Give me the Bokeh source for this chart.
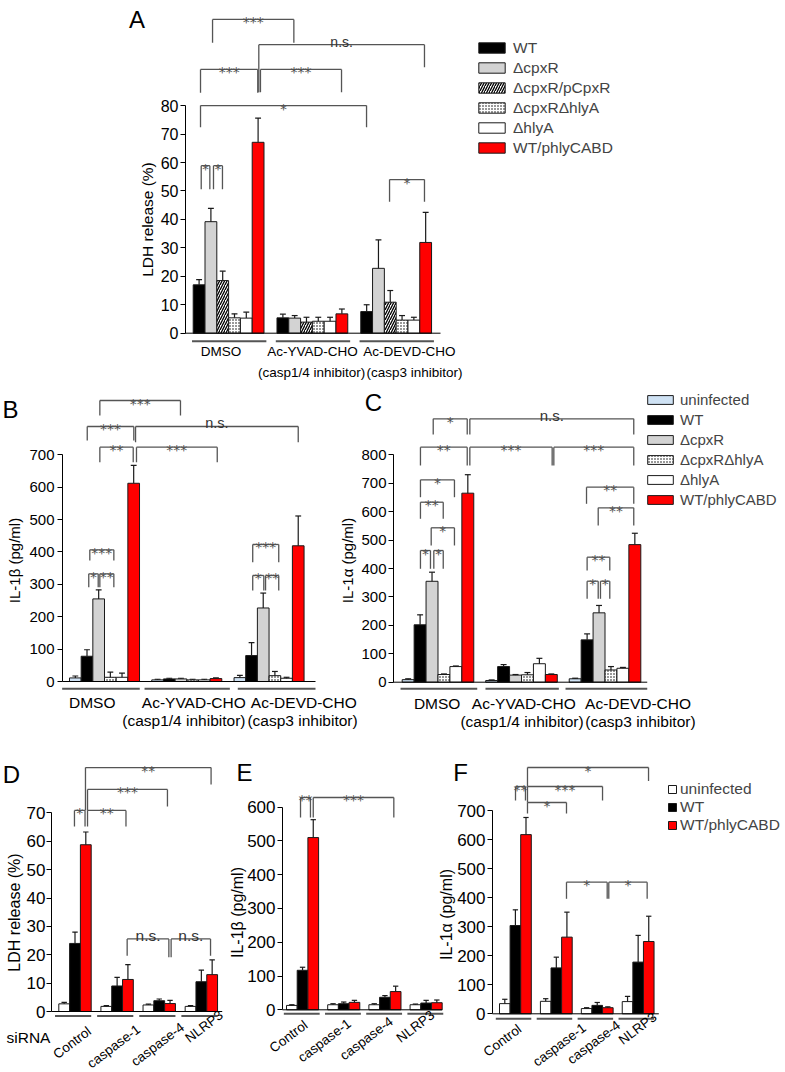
import math
from bokeh.plotting import figure
from bokeh.models import Range1d, FixedTicker, Legend, LegendItem, LinearAxis
from bokeh.embed import file_html
from bokeh.resources import INLINE
from bokeh.core.properties import value

FONT = "Liberation Sans"
STAR_FONT = "DejaVu Sans"
PW, PH = 785, 1072
M = 0

# ================= DATA =================
# Panel A : LDH release (%)
A_groups = ["DMSO", "Ac-YVAD-CHO", "Ac-DEVD-CHO"]
A_subs = ["(casp1/4 inhibitor)", "(casp3 inhibitor)"]
A_series = ["WT", "ΔcpxR", "ΔcpxR/pCpxR", "ΔcpxRΔhlyA", "ΔhlyA", "WT/phlyCABD"]
A_WT = [17.0, 5.4, 7.6]
A_WT_sem = [1.8, 1.3, 2.4]
A_cpxR = [39.2, 5.3, 22.8]
A_cpxR_sem = [4.7, 0.9, 10.0]
A_cpxRp = [18.5, 3.9, 10.9]
A_cpxRp_sem = [3.3, 1.7, 4.1]
A_cpxRhly = [5.4, 4.2, 4.6]
A_cpxRhly_sem = [1.4, 1.4, 1.6]
A_hly = [5.3, 4.2, 4.6]
A_hly_sem = [2.1, 1.4, 1.0]
A_red = [67.1, 6.8, 31.9]
A_red_sem = [8.5, 1.7, 10.6]
A_yticks = [0, 10, 20, 30, 40, 50, 60, 70, 80]

# Panel B : IL-1beta (pg/ml)
BC_series = ["uninfected", "WT", "ΔcpxR", "ΔcpxRΔhlyA", "ΔhlyA", "WT/phlyCABD"]
B_un = [11, 5, 12]
B_un_sem = [6, 2, 7]
B_WT = [78, 8, 80]
B_WT_sem = [20, 2, 40]
B_cpxR = [255, 8, 227]
B_cpxR_sem = [28, 2, 46]
B_cpxRhly = [13, 5, 18]
B_cpxRhly_sem = [16, 2, 13]
B_hly = [13, 5, 10]
B_hly_sem = [13, 2, 3]
B_red = [612, 9, 419]
B_red_sem = [55, 2, 92]
B_yticks = [0, 100, 200, 300, 400, 500, 600, 700]

# Panel C : IL-1alpha (pg/ml)
C_un = [9, 6, 12]
C_un_sem = [3, 2, 2]
C_WT = [202, 55, 149]
C_WT_sem = [35, 7, 21]
C_cpxR = [355, 25, 244]
C_cpxR_sem = [32, 2, 26]
C_cpxRhly = [27, 26, 43]
C_cpxRhly_sem = [2, 8, 12]
C_hly = [55, 65, 49]
C_hly_sem = [2, 19, 3]
C_red = [665, 27, 484]
C_red_sem = [65, 2, 40]
C_yticks = [0, 100, 200, 300, 400, 500, 600, 700, 800]

# Panels D-F : siRNA knock-down
DEF_groups = ["Control", "caspase-1", "caspase-4", "NLRP3"]
DEF_series = ["uninfected", "WT", "WT/phlyCABD"]
D_un = [2.7, 1.8, 2.3, 1.8]
D_un_sem = [0.5, 0.3, 0.3, 0.3]
D_WT = [24.0, 9.0, 3.8, 10.5]
D_WT_sem = [4.0, 3.0, 0.6, 4.1]
D_red = [58.8, 11.3, 2.8, 13.0]
D_red_sem = [4.5, 5.2, 1.1, 5.2]
D_yticks = [0, 10, 20, 30, 40, 50, 60, 70]

E_un = [13, 15, 15, 15]
E_un_sem = [2, 3, 3, 2]
E_WT = [117, 18, 37, 20]
E_WT_sem = [9, 5, 5, 8]
E_red = [510, 22, 54, 21]
E_red_sem = [53, 6, 16, 8]
E_yticks = [0, 100, 200, 300, 400, 500, 600]

F_un = [35, 43, 18, 42]
F_un_sem = [15, 9, 3, 18]
F_WT = [304, 158, 29, 178]
F_WT_sem = [54, 37, 10, 92]
F_red = [617, 264, 21, 249]
F_red_sem = [59, 86, 3, 87]
F_yticks = [0, 100, 200, 300, 400, 500, 600, 700]

# significance brackets: (x_left, x_right, y, left-leg end, right-leg end, label)
A_sig = [(1.64, 8.53, 110.3, 102.1, 102.1, "***"),
         (5.56, 19.6, 101.4, 84.7, 93.5, "n.s."),
         (0.62, 5.47, 92.7, 84.5, 84.5, "***"),
         (5.70, 12.57, 92.7, 84.7, 84.7, "***"),
         (0.62, 14.69, 80.0, 72.4, 72.4, "*"),
         (0.68, 1.41, 58.9, 50.6, 50.6, "*"),
         (1.72, 2.48, 58.9, 50.6, 50.6, "*"),
         (16.64, 19.6, 54.0, 46.2, 46.2, "*")]
B_sig = [(2.6, 9.51, 867.5, 821.2, 821.2, "***"),
         (1.52, 5.51, 787.3, 744, 744, "***"),
         (5.66, 19.6, 787.3, 738.8, 738.8, "n.s."),
         (2.6, 5.46, 723.4, 677, 677, "**"),
         (5.74, 12.66, 723.4, 677, 677, "***"),
         (1.74, 3.8, 406.6, 373.6, 373.6, "***"),
         (1.65, 2.46, 332.5, 291, 291, "*"),
         (2.6, 3.8, 332.5, 291, 291, "**"),
         (15.7, 17.93, 423, 368.3, 368.3, "***"),
         (15.7, 16.65, 327.3, 281, 281, "*"),
         (16.8, 17.93, 327.3, 281, 281, "**")]
C_sig = [(2.6, 5.45, 926.6, 871.4, 871.4, "*"),
         (5.67, 19.41, 926.6, 871.4, 871.4, "n.s."),
         (1.53, 5.45, 826.7, 762.4, 762.4, "**"),
         (5.67, 12.57, 826.7, 762.4, 762.4, "***"),
         (12.71, 19.41, 826.7, 762.4, 762.4, "***"),
         (1.53, 4.38, 712, 650.8, 650.8, "*"),
         (1.53, 3.44, 633.2, 574.9, 574.9, "**"),
         (2.43, 4.38, 543.2, 481, 481, "*"),
         (1.53, 2.37, 463.3, 399, 399, "*"),
         (2.65, 3.44, 463.3, 399, 399, "*"),
         (15.45, 19.41, 686, 627.6, 627.6, "**"),
         (16.43, 19.41, 613.5, 551.3, 551.3, "**"),
         (15.5, 17.4, 439.8, 393, 393, "**"),
         (15.5, 16.43, 355.3, 293.4, 293.4, "*"),
         (16.62, 17.4, 355.3, 293.4, 293.4, "*")]
D_sig = [(2.47, 14.1, 86.0, 70.9, 80.0, "**"),
         (2.66, 10.06, 78.3, 70.9, 72.3, "***"),
         (1.45, 2.43, 70.9, 65.2, 65.2, "*"),
         (2.66, 6.22, 70.9, 65.2, 65.2, "**"),
         (6.33, 10.19, 25.6, 19.7, 19.1, "n.s."),
         (10.4, 14.05, 25.6, 19.1, 19.7, "n.s.")]
E_sig = [(1.31, 2.24, 628.7, 569.4, 569.4, "**"),
         (2.5, 10.03, 628.7, 569.4, 569.4, "***")]
F_sig = [(2.64, 14.06, 848.1, 782.7, 801.7, "*"),
         (1.51, 2.45, 782.7, 734.5, 734.5, "**"),
         (2.64, 9.72, 782.7, 727.6, 734.5, "***"),
         (2.64, 6.32, 727.6, 689.7, 689.7, "*"),
         (6.32, 10.16, 453.2, 396, 396, "*"),
         (10.31, 13.93, 453.2, 396, 396, "*")]

# ================= STYLES =================
EDGE = "#1a1a1a"
STY = {
    "uninfected": dict(fill_color="#cfe2f4"),
    "uninfected_w": dict(fill_color="white"),
    "WT": dict(fill_color="black"),
    "ΔcpxR": dict(fill_color="#d3d3d3"),
    "ΔcpxR/pCpxR": dict(fill_color="white", hatch_pattern="/", hatch_scale=5,
                         hatch_weight=1.3, hatch_color="black"),
    "ΔcpxRΔhlyA": dict(fill_color="white", hatch_pattern=".", hatch_scale=3,
                        hatch_weight=1, hatch_color="black"),
    "ΔhlyA": dict(fill_color="white"),
    "WT/phlyCABD": dict(fill_color="#ff0000"),
}

# one page-sized figure; every panel has its own x/y ranges and y axis
p = figure(width=PW, height=PH, x_range=Range1d(M, M + PW), y_range=Range1d(M + PH, M),
           output_backend="svg", toolbar_location=None, tools="",
           x_axis_location=None, y_axis_location=None, min_border=0)
p.background_fill_color = None
p.border_fill_color = None
p.outline_line_color = None
p.grid.grid_line_color = None

XR, YR = {}, {}
AX_X = {}


def setup(name, geom, yticks, tick_fs, tick_so):
    axis_px, x0, sx, y0, sy = geom
    XR[name] = Range1d((M - x0) / sx, (M + PW - x0) / sx)
    YR[name] = Range1d((y0 - (M + PH)) / sy, (y0 - M) / sy)
    AX_X[name] = (axis_px - x0) / sx
    return (name, yticks, tick_fs, tick_so)


def add_axis(spec):
    name, yticks, tick_fs, tick_so = spec
    ax = LinearAxis(x_range_name=name, y_range_name=name, fixed_location=AX_X[name],
                    bounds=(0, yticks[-1]), ticker=FixedTicker(ticks=yticks))
    ax.minor_tick_line_color = None
    ax.major_tick_in = 0
    ax.major_tick_out = 5
    ax.major_tick_line_color = "black"
    ax.axis_line_color = "black"
    ax.major_label_standoff = tick_so
    ax.major_label_text_font = FONT
    ax.major_label_text_font_size = f"{tick_fs}px"
    ax.major_label_text_color = "black"
    p.add_layout(ax, "left")


def bars(name, series, stride, cap=0.25):
    kw = dict(x_range_name=name, y_range_name=name)
    rs = []
    for i, (means, sems, sty) in enumerate(series):
        xs = [g * stride + i + 0.5 for g in range(len(means))]
        r = p.vbar(x=xs, top=means, bottom=0, width=1.0, line_color=EDGE,
                   line_width=1, **STY[sty], **kw)
        tops = [m + s for m, s in zip(means, sems)]
        p.segment(x0=xs, y0=means, x1=xs, y1=tops, line_color=EDGE, line_width=1.2, **kw)
        p.segment(x0=[x - cap for x in xs], y0=tops, x1=[x + cap for x in xs],
                  y1=tops, line_color=EDGE, line_width=1.2, **kw)
        rs.append(r)
    return rs


def brackets(name, sig, star_fs=14, ns_fs=15):
    kw = dict(x_range_name=name, y_range_name=name)
    x0s, y0s, x1s, y1s = [], [], [], []
    for (a, b, y, yl, yr, t) in sig:
        x0s += [a, a, b]
        y0s += [y, y, y]
        x1s += [b, a, b]
        y1s += [y, yl, yr]
    p.segment(x0=x0s, y0=y0s, x1=x1s, y1=y1s, line_color="#555555", line_width=1.3, **kw)
    stars = [s for s in sig if s[5] != "n.s."]
    ns = [s for s in sig if s[5] == "n.s."]
    if stars:
        p.text(x=[(s[0] + s[1]) / 2 for s in stars], y=[s[2] for s in stars],
               text=[s[5] for s in stars], text_align="center",
               text_baseline="alphabetic", y_offset=3,
               text_font=value(STAR_FONT), text_font_size=f"{star_fs}px",
               text_color="#505050", **kw)
    if ns:
        p.text(x=[(s[0] + s[1]) / 2 for s in ns], y=[s[2] for s in ns],
               text=[s[5] for s in ns], text_align="center",
               text_baseline="alphabetic", y_offset=-3,
               text_font=value(FONT), text_font_size=f"{ns_fs}px",
               text_color="#333333", **kw)


def baseline(name, x_end, ul_y, ul_ext):
    kw = dict(x_range_name=name, y_range_name=name)
    p.segment(x0=[AX_X[name]], y0=[0], x1=[x_end], y1=[0],
              line_color="black", line_width=1, **kw)
    p.segment(x0=[e[0] for e in ul_ext], y0=[ul_y] * len(ul_ext),
              x1=[e[1] for e in ul_ext], y1=[ul_y] * len(ul_ext),
              line_color="#555555", line_width=2, **kw)


def texts(name, xs, ys, labels, fs, angle=0.0):
    kw = {} if name is None else dict(x_range_name=name, y_range_name=name)
    p.text(x=xs, y=ys, text=labels, text_align="center", text_baseline="middle",
           angle=angle, text_font=value(FONT), text_font_size=f"{fs}px",
           text_color="black", **kw)


def legend(rs, labels, left_px, bottom_px, gw, gh, lh, spacing, standoff, fs):
    items = [LegendItem(label=l, renderers=[r]) for l, r in zip(labels, rs)]
    lg = Legend(items=items, location=(left_px - M, M + PH - bottom_px),
                glyph_width=gw, glyph_height=gh,
                label_height=lh, spacing=spacing, padding=0, margin=0,
                label_standoff=standoff, label_text_font=FONT,
                label_text_font_size=f"{fs}px", border_line_color=None,
                background_fill_alpha=0)
    p.add_layout(lg)


specs = [
    setup("A", (185, 192.7, 11.8, 332.7, 2.845), A_yticks, 16, 2),
    setup("B", (62, 69, 11.67, 681, 0.3239), B_yticks, 15, 3),
    setup("C", (393, 401.7, 11.93, 681.7, 0.28425), C_yticks, 15, 2),
    setup("D", (51, 58.3, 10.8, 1011, 2.836), D_yticks, 17, 1),
    setup("E", (282, 286, 10.7, 1009.3, 0.3377), E_yticks, 17, 2),
    setup("F", (492, 499, 10.6, 1013.3, 0.2904), F_yticks, 17, 2),
]
p.extra_x_ranges = XR
p.extra_y_ranges = YR
for s in specs:
    add_axis(s)

# ================= PANEL A =================
rA = bars("A", [(A_WT, A_WT_sem, "WT"), (A_cpxR, A_cpxR_sem, "ΔcpxR"),
                (A_cpxRp, A_cpxRp_sem, "ΔcpxR/pCpxR"),
                (A_cpxRhly, A_cpxRhly_sem, "ΔcpxRΔhlyA"),
                (A_hly, A_hly_sem, "ΔhlyA"), (A_red, A_red_sem, "WT/phlyCABD")], 7.1)
baseline("A", 20.96, -2.81, [(g * 7.1 - 0.1, g * 7.1 + 6.2) for g in range(3)])
brackets("A", A_sig, 14, 14)
texts("A", [2.36, 10.11, 18.33], [-6.43] * 3, A_groups, 13.5)
texts("A", [10.03, 18.75], [-13.7] * 2, A_subs, 13.5)
legend(rA, A_series, 475, 157.5, 33, 13, 20, 0, 5, 15.5)

# ================= PANEL B =================
rB = bars("B", [(B_un, B_un_sem, "uninfected"), (B_WT, B_WT_sem, "WT"),
                (B_cpxR, B_cpxR_sem, "ΔcpxR"), (B_cpxRhly, B_cpxRhly_sem, "ΔcpxRΔhlyA"),
                (B_hly, B_hly_sem, "ΔhlyA"), (B_red, B_red_sem, "WT/phlyCABD")], 7.05)
baseline("B", 21.08, -22.5, [(-0.63, 6.02), (6.43, 13.74), (14.42, 21.08)])
brackets("B", B_sig, 14, 14.5)
texts("B", [1.95, 10.65, 20.08], [-63.9] * 3, A_groups, 15.5)
texts("B", [9.8, 19.97], [-120.4] * 2, A_subs, 15.5)

# ================= PANEL C =================
rC = bars("C", [(C_un, C_un_sem, "uninfected"), (C_WT, C_WT_sem, "WT"),
                (C_cpxR, C_cpxR_sem, "ΔcpxR"), (C_cpxRhly, C_cpxRhly_sem, "ΔcpxRΔhlyA"),
                (C_hly, C_hly_sem, "ΔhlyA"), (C_red, C_red_sem, "WT/phlyCABD")], 7.0)
baseline("C", 20.54, -23.2, [(-0.14, 6.29), (6.98, 13.13), (13.69, 20.54)])
brackets("C", C_sig, 14, 15)
texts("C", [2.93, 10.19, 19.77], [-74.9] * 3, A_groups, 15.5)
texts("C", [10.04, 19.97], [-138.3] * 2, A_subs, 15.5)
legend(rC, BC_series, 644, 509.3, 32, 11, 20, 0, 4, 15)

# ================= PANEL D =================
ANG = math.radians(37)
rD = bars("D", [(D_un, D_un_sem, "uninfected_w"), (D_WT, D_WT_sem, "WT"),
                (D_red, D_red_sem, "WT/phlyCABD")], 3.9)
baseline("D", 15.13, -1.59, [(g * 3.9 - 0.35, g * 3.9 + 3.0) for g in range(4)])
brackets("D", D_sig, 14, 15.5)
texts("D", [1.24, 5.09, 9.15, 13.45], [-11.0, -12.3, -11.6, -5.3], DEF_groups, 13.5, ANG)

# ================= PANEL E =================
rE = bars("E", [(E_un, E_un_sem, "uninfected_w"), (E_WT, E_WT_sem, "WT"),
                (E_red, E_red_sem, "WT/phlyCABD")], 3.85)
baseline("E", 14.55, -11.8, [(g * 3.85 - 0.25, g * 3.85 + 3.1) for g in range(4)])
brackets("E", E_sig, 14, 15)
texts("E", [0.19, 3.55, 7.48, 12.06], [-79.1, -90.9, -84.9, -49.5], DEF_groups, 13.5, ANG)

# ================= PANEL F =================
rF = bars("F", [(F_un, F_un_sem, "uninfected_w"), (F_WT, F_WT_sem, "WT"),
                (F_red, F_red_sem, "WT/phlyCABD")], 3.86)
baseline("F", 15.03, -17.2, [(g * 3.86 - 0.35, g * 3.86 + 3.0) for g in range(4)])
brackets("F", F_sig, 14, 15)
texts("F", [0.28, 5.66, 8.9, 13.03], [-91.9, -106.6, -98.3, -50.7], DEF_groups, 13.5, ANG)
legend(rF, DEF_series, 667, 834, 10, 10, 15, -2, 3, 15.5)

# ================= axis titles, panel letters, shared labels (page coords) ====
VERT = math.pi / 2
p.text(x=[146.5], y=[219], text=["LDH release (%)"], angle=VERT, text_align="center",
       text_baseline="middle", text_font=value(FONT), text_font_size="15.5px", text_color="black")
p.text(x=[13.5, 346.5], y=[560, 560], text=["IL-1β (pg/ml)", "IL-1α (pg/ml)"], angle=VERT,
       text_align="center", text_baseline="middle", text_font=value(FONT),
       text_font_size="15px", text_color="black")
p.text(x=[14, 236.5, 445.5], y=[912, 912, 914],
       text=["LDH release (%)", "IL-1β (pg/ml)", "IL-1α (pg/ml)"], angle=VERT,
       text_align="center", text_baseline="middle", text_font=value(FONT),
       text_font_size="16px", text_color="black")
p.text(x=[136.5, 10, 373, 11, 244, 460], y=[18.5, 409, 402, 774, 772, 772],
       text=["A", "B", "C", "D", "E", "F"], text_align="center", text_baseline="middle",
       text_font=value(FONT), text_font_size="24px", text_color="black")
p.text(x=[28], y=[1036.5], text=["siRNA"], text_align="center", text_baseline="middle",
       text_font=value(FONT), text_font_size="15.5px", text_color="black")

open("out.html", "w").write(file_html(p, INLINE))
